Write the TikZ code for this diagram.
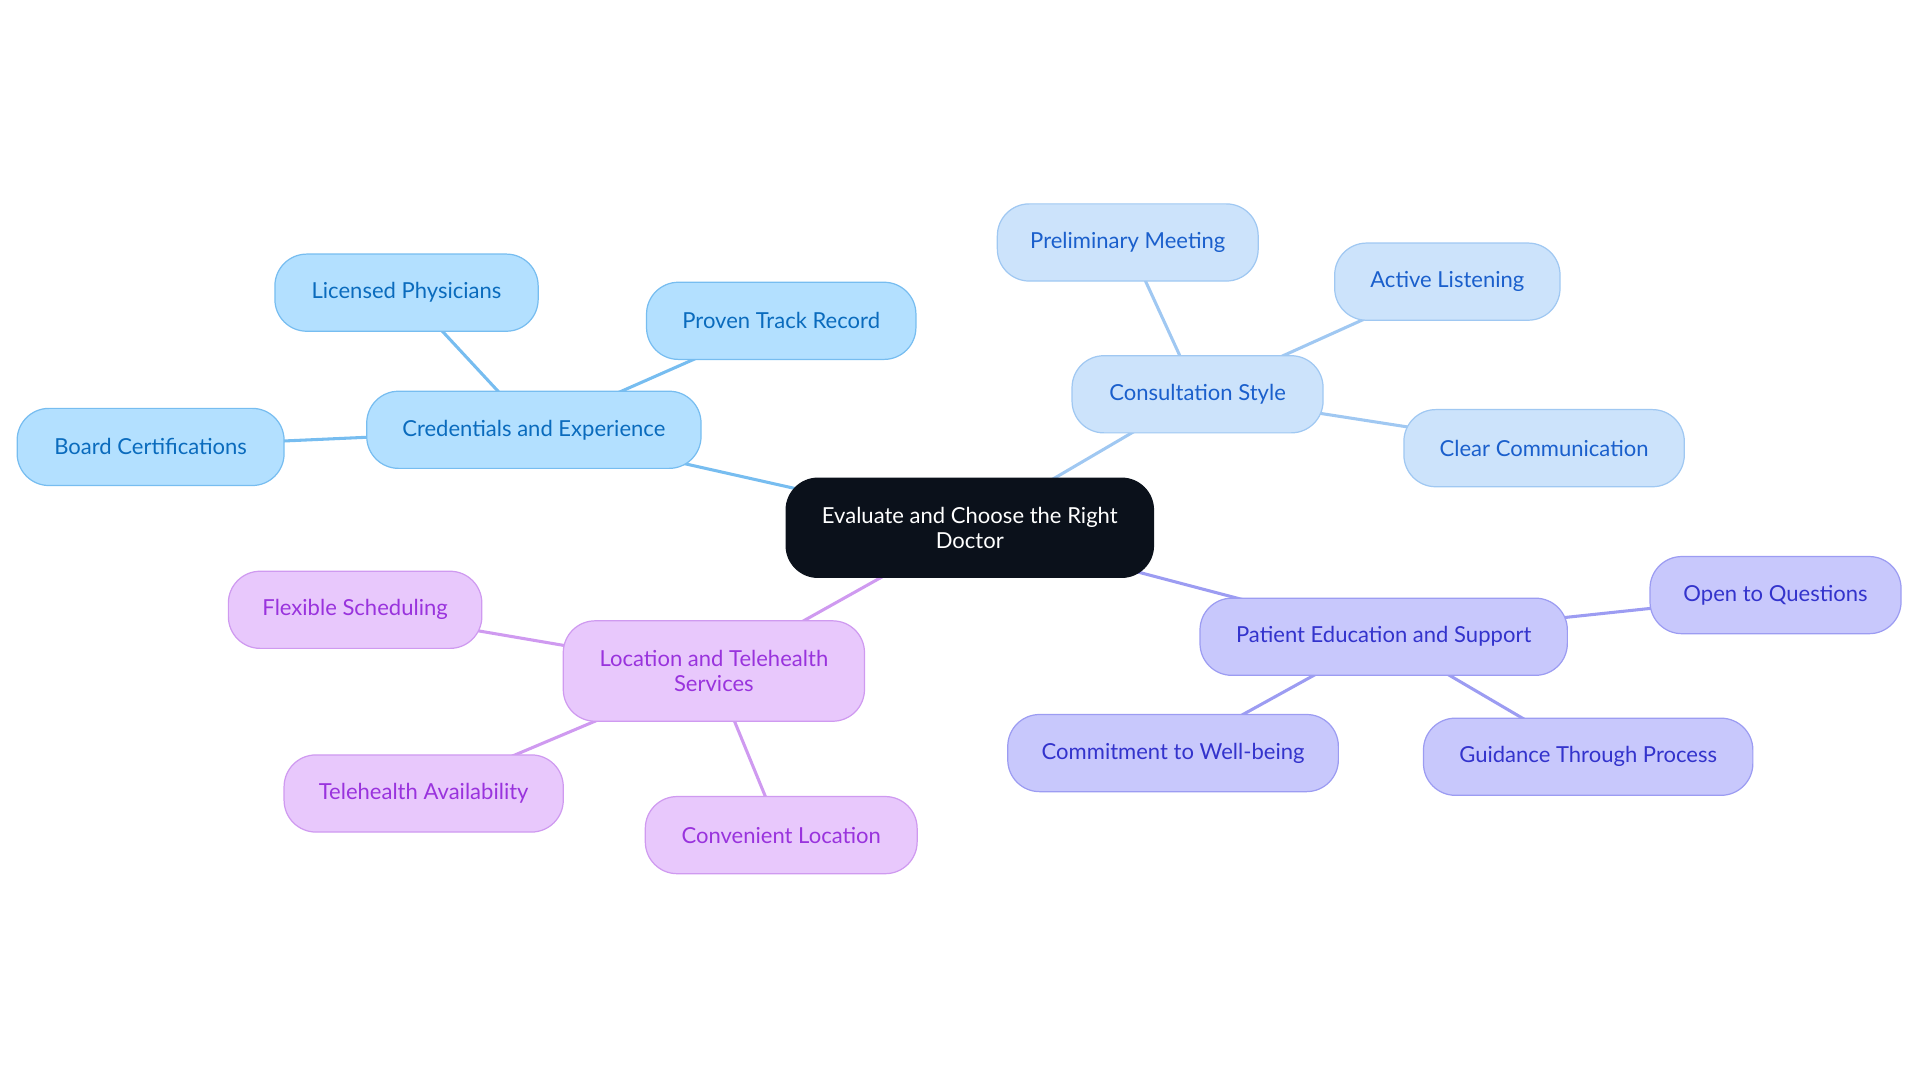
\documentclass[tikz,border=0pt]{standalone}
\usepackage{fontspec}
\setmainfont{Lato}
\usepackage{xcolor}
\usetikzlibrary{positioning, backgrounds}

\definecolor{rootfill}{HTML}{0B111B}
\definecolor{credfill}{HTML}{B3E0FF}
\definecolor{credline}{HTML}{77BDF0}
\definecolor{credtext}{HTML}{0A6BBD}
\definecolor{consfill}{HTML}{CCE3FB}
\definecolor{consline}{HTML}{A0C8F2}
\definecolor{constext}{HTML}{1A5FCC}
\definecolor{edufill}{HTML}{C8C8FC}
\definecolor{eduline}{HTML}{9C9CF2}
\definecolor{edutext}{HTML}{3333CC}
\definecolor{locfill}{HTML}{E8C8FC}
\definecolor{locline}{HTML}{CF9AF0}
\definecolor{loctext}{HTML}{9933DD}

\begin{document}
\begin{tikzpicture}[x=1pt, y=-1pt, font=\fontsize{18}{20}\selectfont]
            % Define block styles
            \tikzstyle{topic} = [rectangle, rounded corners=26pt, minimum height=63pt, inner sep=0pt, align=center, line width=1pt]
            \tikzstyle{root} = [topic, draw=rootfill, fill=rootfill, text=white, minimum height=81pt]
            \tikzstyle{cred} = [topic, draw=credline, fill=credfill, text=credtext]
            \tikzstyle{cons} = [topic, draw=consline, fill=consfill, text=constext]
            \tikzstyle{edu} = [topic, draw=eduline, fill=edufill, text=edutext]
            \tikzstyle{loc} = [topic, draw=locline, fill=locfill, text=loctext]
            \tikzstyle{link} = [line width=2.5pt]

            \useasboundingbox (0,0) rectangle (1568,884);

            % Nodes
            \node[root, minimum width=300pt] at (792,431) (root) {Evaluate and Choose the Right\\Doctor};

            \node[cred, minimum width=273pt] at (436,351) (cred) {Credentials and Experience};
            \node[cred, minimum width=215pt] at (332,239) (lic) {Licensed Physicians};
            \node[cred, minimum width=220pt] at (638,262) (track) {Proven Track Record};
            \node[cred, minimum width=218pt] at (123,365) (board) {Board Certifications};

            \node[cons, minimum width=205pt] at (978,322) (cons) {Consultation Style};
            \node[cons, minimum width=213pt] at (921,198) (prelim) {Preliminary Meeting};
            \node[cons, minimum width=184pt] at (1182,230) (listen) {Active Listening};
            \node[cons, minimum width=229pt] at (1261,366) (clear) {Clear Communication};

            \node[edu, minimum width=300pt] at (1130,520) (edu) {Patient Education and Support};
            \node[edu, minimum width=205pt] at (1450,486) (quest) {Open to Questions};
            \node[edu, minimum width=270pt] at (958,615) (well) {Commitment to Well-being};
            \node[edu, minimum width=269pt] at (1297,618) (guide) {Guidance Through Process};

            \node[loc, minimum width=246pt, minimum height=82pt] at (583,548) (loc) {Location and Telehealth\\Services};
            \node[loc, minimum width=207pt] at (290,498) (flex) {Flexible Scheduling};
            \node[loc, minimum width=228pt] at (346,648) (tele) {Telehealth Availability};
            \node[loc, minimum width=222pt] at (638,682) (conv) {Convenient Location};

            % Links, behind the nodes
            \begin{scope}[on background layer]
            \draw[link, credline] (root.center) -- (cred.center);
            \draw[link, credline] (cred.center) -- (lic.center);
            \draw[link, credline] (cred.center) -- (track.center);
            \draw[link, credline] (cred.center) -- (board.center);
            \draw[link, consline] (root.center) -- (cons.center);
            \draw[link, consline] (cons.center) -- (prelim.center);
            \draw[link, consline] (cons.center) -- (listen.center);
            \draw[link, consline] (cons.center) -- (clear.center);
            \draw[link, eduline] (root.center) -- (edu.center);
            \draw[link, eduline] (edu.center) -- (quest.center);
            \draw[link, eduline] (edu.center) -- (well.center);
            \draw[link, eduline] (edu.center) -- (guide.center);
            \draw[link, locline] (root.center) -- (loc.center);
            \draw[link, locline] (loc.center) -- (flex.center);
            \draw[link, locline] (loc.center) -- (tele.center);
            \draw[link, locline] (loc.center) -- (conv.center);
            \end{scope}
        \end{tikzpicture}
\end{document}
